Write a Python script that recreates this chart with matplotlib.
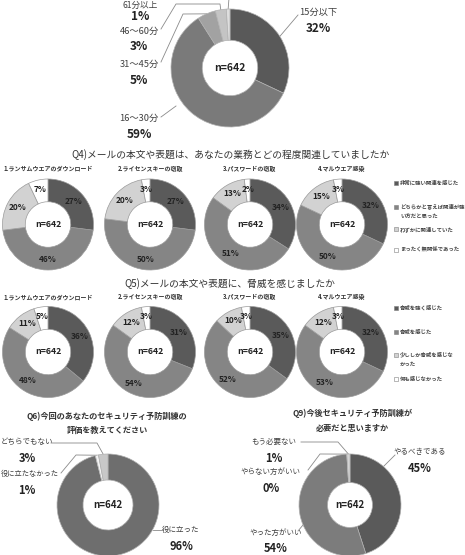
import numpy as np
import matplotlib.pyplot as plt
from matplotlib.patches import Rectangle

plt.rcParams['font.family'] = ['Noto Sans CJK JP', 'DejaVu Sans']

W, H = 465, 555

# Q3 (top donut): time spent
q3_labels = ["15分以下", "16〜30分", "31〜45分", "46〜60分", "61分以上"]
q3_vals = [32, 59, 5, 3, 1]

# Q4 / Q5 small donuts
sub_titles = ["1.ランサムウエアのダウンロード", "2.ライセンスキーの窃取",
              "3.パスワードの窃取", "4.マルウエア感染"]
q4_legend = ["非常に強い関連を感じた", "どちらかと言えば関連が強\nい方だと思った",
             "わずかに関連していた", "まったく無関係であった"]
q4_vals = [[27, 46, 20, 7], [27, 50, 20, 3], [34, 51, 13, 2], [32, 50, 15, 3]]
q5_legend = ["脅威を強く感じた", "脅威を感じた", "少ししか脅威を感じな\nかった",
             "何も感じなかった"]
q5_vals = [[36, 48, 11, 5], [31, 54, 12, 3], [35, 52, 10, 3], [32, 53, 12, 3]]

# Q6 / Q9
q6_labels = ["役に立った", "役に立たなかった", "どちらでもない"]
q6_vals = [96, 1, 3]
q9_labels = ["やるべきである", "やった方がいい", "やらない方がいい", "もう必要ない"]
q9_vals = [45, 54, 0, 1]

TXT = '#404040'
PCT = '#222222'

fig = plt.figure(figsize=(W / 100, H / 100), dpi=100)
base = fig.add_axes([0, 0, 1, 1])
base.set_xlim(0, W)
base.set_ylim(H, 0)
base.axis('off')


def donut(cx, cy, R, vals, colors, inner, edge='#b0b0b0'):
    ax = fig.add_axes([(cx - R) / W, 1 - (cy + R) / H, 2 * R / W, 2 * R / H])
    wedges, _ = ax.pie(vals, colors=colors, startangle=90, counterclock=False,
                       radius=1, wedgeprops=dict(width=1 - inner, edgecolor=edge,
                                                 linewidth=0.5))
    ax.set_xlim(-1, 1)
    ax.set_ylim(-1, 1)
    ax.set_aspect('equal')
    ax.axis('off')
    return ax, wedges


def edge_pt(cx, cy, R, w, r=1.0):
    a = np.deg2rad((w.theta1 + w.theta2) / 2)
    return cx + R * r * np.cos(a), cy - R * r * np.sin(a)


def leader(pts):
    xs, ys = zip(*pts)
    base.plot(xs, ys, color='#8a8a8a', lw=0.6, clip_on=False)


def label(x, y, name, pct, fs=6.7, pfs=8.5, gap=16):
    base.text(x, y, name, ha='center', va='center', fontsize=fs, color=TXT)
    base.text(x, y + gap, pct, ha='center', va='center',
              fontsize=pfs, fontweight='bold', color=PCT)


# ---- top donut ----
cx, cy, R = 230, 68, 59
ax, wd = donut(cx, cy, R, q3_vals,
               ['#595959', '#7a7a7a', '#a2a2a2', '#c4c4c4', '#dedede'], 0.47)
ax.text(0, 0, "n=642", ha='center', va='center', fontsize=7.5,
        fontweight='bold', color=PCT)
label(318, 12, q3_labels[0], f"{q3_vals[0]}%")
label(139, 118, q3_labels[1], f"{q3_vals[1]}%")
label(139, 64, q3_labels[2], f"{q3_vals[2]}%")
label(139, 31, q3_labels[3], f"{q3_vals[3]}%")
label(140, 5, q3_labels[4], f"{q3_vals[4]}%", fs=6.2, gap=12)
leader([(298, 15), edge_pt(cx, cy, R, wd[0])])
leader([(161, 117), (176, 106)])
leader([(161, 62), (183, 14), edge_pt(cx, cy, R, wd[2])])
leader([(161, 29), (176, 4), (220, 4), edge_pt(cx, cy, R, wd[3])])
leader([(229, -2), edge_pt(cx, cy, R, wd[4])])

# ---- Q4 / Q5 rows ----
small_cols = ['#5a5a5a', '#858585', '#d2d2d2', '#ffffff']
centers_x = [48, 150, 250, 342]


def row(title, title_y, sub_y, cy, data, legend, leg_y):
    base.text(230, title_y, title, ha='center', va='center', fontsize=7,
              color='#333333')
    for i, (x, vals) in enumerate(zip(centers_x, data)):
        base.text(x, sub_y, sub_titles[i], ha='center', va='center',
                  fontsize=4.3, fontweight='bold', color='#333333')
        ax, wd = donut(x, cy, 45.5, vals, small_cols, 0.5, edge='#9a9a9a')
        ax.text(0, 0, "n=642", ha='center', va='center', fontsize=6.3,
                fontweight='bold', color=PCT)
        for w, v in zip(wd, vals):
            a = np.deg2rad((w.theta1 + w.theta2) / 2)
            ax.text(0.76 * np.cos(a), 0.78 * np.sin(a), f"{v}%", ha='center',
                    va='center', fontsize=6, fontweight='bold', color=PCT,
                    clip_on=False)
    # legend
    for col, txt, y in zip(small_cols, legend, leg_y):
        base.add_patch(Rectangle((394, y - 1.8), 3.6, 3.6, facecolor=col,
                                 edgecolor='#808080', lw=0.4))
        if '\n' in txt:
            base.text(400, y - 3.6, txt, ha='left', va='top', fontsize=3.9,
                      fontweight='bold', color='#444444', linespacing=2.2)
        else:
            base.text(400, y, txt, ha='left', va='center', fontsize=3.9,
                      fontweight='bold', color='#444444')


row("Q4)メールの本文や表題は、あなたの業務とどの程度関連していましたか",
    155, 168, 224.5, q4_vals, q4_legend, [183, 207, 229, 250])
row("Q5)メールの本文や表題に、脅威を感じましたか",
    284, 297, 352, q5_vals, q5_legend, [308, 332, 355, 379])

# ---- Q6 ----
cx, cy, R = 108, 505, 51
base.text(107, 416, "Q6)今回のあなたのセキュリティ予防訓練の", ha='center',
          va='center', fontsize=5.9, fontweight='bold', color='#333333')
base.text(107, 430, "評価を教えてください", ha='center', va='center',
          fontsize=5.9, fontweight='bold', color='#333333')
ax, wd = donut(cx, cy, R, q6_vals, ['#6e6e6e', '#f2f2f2', '#c8c8c8'], 0.49)
ax.text(0, 0, "n=642", ha='center', va='center', fontsize=7,
        fontweight='bold', color=PCT)
label(181, 530, q6_labels[0], f"{q6_vals[0]}%", fs=5.4, pfs=8)
base.text(1, 474, q6_labels[1], ha='left', va='center', fontsize=5.2, color=TXT)
base.text(27, 490, f"{q6_vals[1]}%", ha='center', va='center', fontsize=8,
          fontweight='bold', color=PCT)
label(27, 442, q6_labels[2], f"{q6_vals[2]}%", fs=5.4, pfs=8)
leader([(163, 530), (153, 530)])
leader([(61, 473), (76, 455), edge_pt(cx, cy, R, wd[1])])
leader([(51, 443), (97, 443), edge_pt(cx, cy, R, wd[2])])

# ---- Q9 ----
cx, cy, R = 350, 505, 51
base.text(352, 413, "Q9)今後セキュリティ予防訓練が", ha='center',
          va='center', fontsize=5.9, fontweight='bold', color='#333333')
base.text(352, 428, "必要だと思いますか", ha='center', va='center',
          fontsize=5.9, fontweight='bold', color='#333333')
ax, wd = donut(cx, cy, R, q9_vals,
               ['#5a5a5a', '#7c7c7c', '#a0a0a0', '#d4d4d4'], 0.44)
ax.text(0, 0, "n=642", ha='center', va='center', fontsize=7,
        fontweight='bold', color=PCT)
label(420, 452, q9_labels[0], f"{q9_vals[0]}%", fs=5.4, pfs=8)
label(276, 533, q9_labels[1], f"{q9_vals[1]}%", fs=5.4, pfs=8)
label(271, 472, q9_labels[2], f"{q9_vals[2]}%", fs=5.4, pfs=8)
label(274, 442, q9_labels[3], f"{q9_vals[3]}%", fs=5.4, pfs=8)
leader([(395, 455), (383, 467)])
leader([(298, 531), (303, 525)])
leader([(308, 470), (320, 454), edge_pt(cx, cy, R, wd[2])])
leader([(301, 442), (338, 442), edge_pt(cx, cy, R, wd[3])])

fig.savefig("out.png", dpi=100)
